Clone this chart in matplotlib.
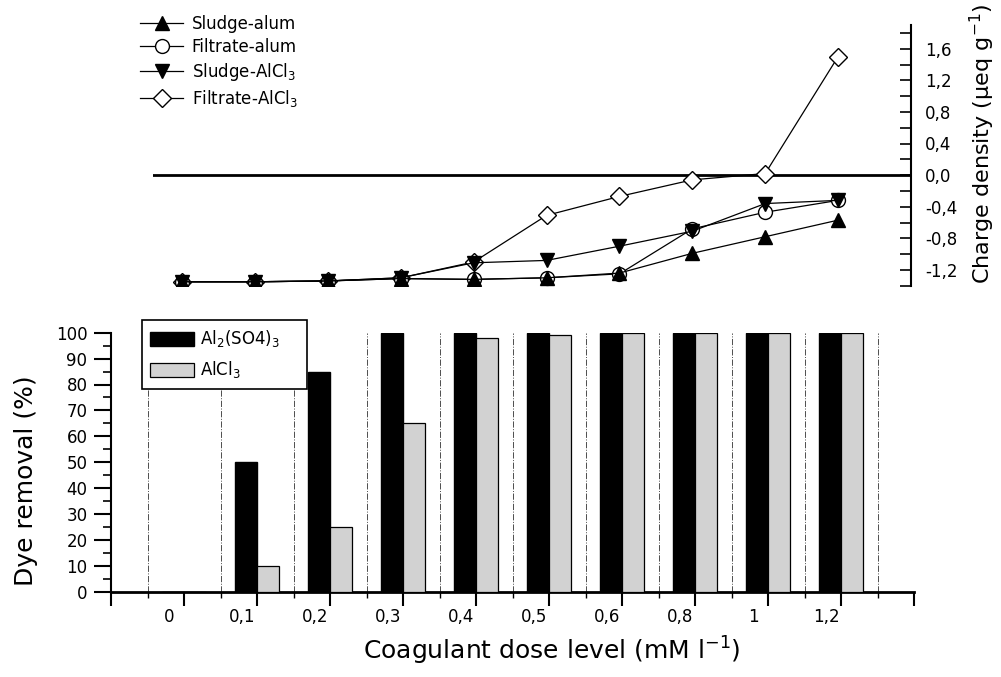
import numpy as np
import matplotlib
matplotlib.use('Agg')
import matplotlib.pyplot as plt
from matplotlib.transforms import ScaledTranslation
from matplotlib.ticker import FixedLocator, MultipleLocator

# Coagulant dose levels (mM/l), shown as categories
dose_labels = ['0', '0,1', '0,2', '0,3', '0,4', '0,5', '0,6', '0,8', '1', '1,2']

# Dye removal (%)
alum_removal = [0, 50, 85, 100, 100, 100, 100, 100, 100, 100]
alcl3_removal = [0, 10, 25, 65, 98, 99, 100, 100, 100, 100]

# Charge density (ueq/g)
sludge_alum = [-1.35, -1.35, -1.34, -1.31, -1.32, -1.30, -1.24, -0.99, -0.78, -0.57]
filtrate_alum = [-1.35, -1.35, -1.34, -1.31, -1.32, -1.30, -1.25, -0.68, -0.47, -0.32]
sludge_alcl3 = [-1.35, -1.35, -1.34, -1.30, -1.11, -1.08, -0.90, -0.71, -0.36, -0.32]
filtrate_alcl3 = [-1.35, -1.35, -1.34, -1.30, -1.10, -0.51, -0.27, -0.06, 0.02, 1.50]

charge_ticks = [-1.2, -0.8, -0.4, 0.0, 0.4, 0.8, 1.2, 1.6]
charge_tick_labels = ['-1,2', '-0,8', '-0,4', '0,0', '0,4', '0,8', '1,2', '1,6']

x = np.arange(len(dose_labels))
W, H = 1001, 677

fig = plt.figure(figsize=(W / 100, H / 100), dpi=100)
ax = fig.add_axes([111 / W, 85.3 / H, 803 / W, 259 / H])
top = fig.add_axes([153 / W, 391.3 / H, 758 / W, 260.7 / H])

# ---- bottom: dye removal bars ----
ax.bar(x - 0.15, alum_removal, width=0.3, color='black', edgecolor='black', lw=1, zorder=3)
ax.bar(x + 0.15, alcl3_removal, width=0.3, color='#d2d2d2', edgecolor='black', lw=0.9, zorder=3)

ax.set_xlim(-1, 10)
ax.set_ylim(0, 100)
ax.spines['top'].set_visible(False)
ax.spines['right'].set_visible(False)
ax.spines['left'].set_linewidth(1.5)
ax.spines['bottom'].set_linewidth(2)

ax.xaxis.set_major_locator(FixedLocator(np.arange(-1, 11)))
ax.set_xticklabels([''] + dose_labels + [''])
ax.xaxis.set_minor_locator(FixedLocator(np.arange(-0.5, 10, 1)))
ax.xaxis.grid(True, which='minor', linestyle='-.', color='0.3', lw=0.7, zorder=0)
ax.yaxis.set_major_locator(MultipleLocator(10))
ax.yaxis.set_minor_locator(MultipleLocator(5))
ax.tick_params(axis='x', which='major', length=10, width=1.5, labelsize=12, pad=2)
ax.tick_params(axis='x', which='minor', length=4, width=1)
ax.tick_params(axis='y', which='major', length=12, width=1.5, labelsize=12, pad=5)
ax.tick_params(axis='y', which='minor', length=6, width=1.2)
shift = ScaledTranslation(-15 / 100, 0, fig.dpi_scale_trans)
for lab in ax.get_xticklabels():
    lab.set_transform(lab.get_transform() + shift)

ax.set_ylabel('Dye removal (%)', fontsize=18)
ax.yaxis.set_label_coords(-0.091, 0.43)
ax.set_xlabel(r'Coagulant dose level (mM l$^{-1}$)', fontsize=18, va='center')
ax.xaxis.set_label_coords(0.549, -0.23)

leg = ax.legend(['Al$_2$(SO4)$_3$', 'AlCl$_3$'], loc='upper left',
                bbox_to_anchor=(142 / W, 1 - 393 / H, 165 / W, 73 / H),
                bbox_transform=fig.transFigure, mode='expand',
                fancybox=False, edgecolor='black', framealpha=1, fontsize=12,
                handlelength=2.6, handleheight=0.9, handletextpad=0.4,
                labelspacing=0.6, borderpad=0.5, borderaxespad=0)
leg.get_frame().set_linewidth(1.2)

# ---- top: charge density ----
top.axhline(0, color='black', lw=2, zorder=1)
l4, = top.plot(x, filtrate_alcl3, color='black', lw=0.9, marker='D', ms=9,
               mfc='white', mec='black', mew=1, zorder=2)
l2, = top.plot(x, filtrate_alum, color='black', lw=0.9, marker='o', ms=10,
               mfc='white', mec='black', mew=1, zorder=3)
l1, = top.plot(x, sludge_alum, color='black', lw=0.9, marker='^', ms=10.5,
               mfc='black', mec='black', zorder=4)
l3, = top.plot(x, sludge_alcl3, color='black', lw=0.9, marker='v', ms=10.5,
               mfc='black', mec='black', zorder=5)

top.set_xlim(-0.4, 10.0)
top.set_ylim(-1.4, 1.9)
for s in ['top', 'left', 'bottom']:
    top.spines[s].set_visible(False)
top.spines['right'].set_linewidth(1.5)
top.set_xticks([])
top.yaxis.tick_right()
top.yaxis.set_label_position('right')
top.yaxis.set_major_locator(FixedLocator(charge_ticks))
top.set_yticklabels(charge_tick_labels)
top.yaxis.set_minor_locator(MultipleLocator(0.2))
top.tick_params(axis='y', which='both', direction='in', length=8, width=1.2,
                labelsize=12, pad=10)
top.set_ylabel(r'Charge density (μeq g$^{-1}$)', fontsize=16, va='center')
top.yaxis.set_label_coords(1.094, 0.545)
top.patch.set_alpha(0)

fig.legend([l1, l2, l3, l4],
           ['Sludge-alum', 'Filtrate-alum', 'Sludge-AlCl$_3$', 'Filtrate-AlCl$_3$'],
           loc='upper left', bbox_to_anchor=(140 / W, 1 - 15 / H),
           frameon=False, fontsize=12, handlelength=2.6, handletextpad=0.5,
           labelspacing=0.3, borderpad=0, borderaxespad=0, numpoints=1)

fig.savefig('out.png', dpi=100)
